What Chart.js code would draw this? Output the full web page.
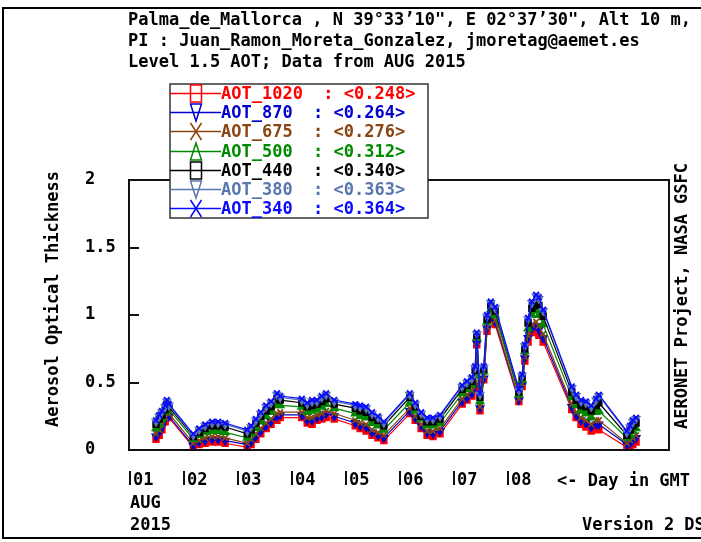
<!DOCTYPE html>
<html>
<head>
<meta charset="utf-8">
<script src="https://cdn.jsdelivr.net/npm/chart.js"></script>
<style>
  body { margin: 0; background: #fff; }
</style>
</head>
<body>
<canvas id="aot" width="701" height="542"></canvas>
<script>
// time in fractional day of August 2015 (GMT)
const dayTime = [1.50,1.56,1.61,1.67,1.70,1.74, 2.19,2.30,2.41,2.54,2.65,2.78,
  3.19,3.26,3.35,3.44,3.54,3.63,3.74,3.80, 4.20,4.30,4.39,4.48,4.57,4.65,4.80,
  5.19,5.28,5.39,5.50,5.61,5.72, 6.20,6.30,6.41,6.52,6.63,6.76,
  7.17,7.26,7.35,7.41,7.44,7.50,7.57,7.63,7.70,7.78,
  8.22,8.28,8.33,8.39,8.46,8.54,8.59,8.67, 9.20,9.28,9.37,9.46,9.56,9.65,9.70,
  10.22,10.28,10.33,10.39];

const aot1020 = [.08,.11,.15,.21,.25,.24, .02,.04,.05,.06,.06,.05, .02,.04,.08,.12,.16,.19,.22,.24,
  .24,.20,.19,.22,.23,.24,.23, .18,.16,.14,.11,.09,.07, .27,.22,.16,.11,.10,.12,
  .34,.37,.40,.46,.78,.29,.52,.88,.97,.93, .36,.47,.66,.80,.87,.88,.85,.80,
  .30,.24,.19,.17,.14,.16,.15, .02,.03,.04,.06];
const aot870 = [.10,.13,.17,.23,.27,.25, .03,.06,.07,.08,.08,.07, .04,.06,.10,.14,.18,.21,.25,.26,
  .26,.22,.22,.24,.25,.27,.25, .20,.18,.17,.13,.11,.09, .29,.24,.18,.13,.12,.14,
  .36,.39,.42,.48,.79,.31,.53,.90,.99,.95, .37,.48,.68,.83,.90,.92,.89,.83,
  .32,.26,.22,.20,.17,.19,.19, .04,.05,.07,.09];
const aot675 = [.12,.15,.19,.24,.28,.27, .05,.07,.09,.10,.10,.09, .05,.08,.12,.16,.20,.23,.27,.28,
  .28,.24,.24,.26,.27,.29,.27, .22,.20,.19,.15,.13,.11, .31,.25,.19,.14,.14,.16,
  .38,.41,.44,.50,.80,.32,.55,.91,1.00,.96, .38,.49,.69,.85,.93,.95,.92,.86,
  .34,.28,.24,.22,.19,.22,.22, .05,.07,.09,.11];
const aot500 = [.16,.19,.23,.28,.32,.30, .08,.11,.13,.14,.14,.13, .09,.12,.16,.21,.25,.28,.33,.33,
  .32,.28,.29,.30,.32,.34,.31, .27,.25,.24,.20,.18,.15, .35,.29,.23,.18,.18,.20,
  .42,.45,.48,.55,.83,.36,.58,.95,1.04,1.00, .41,.52,.73,.90,1.00,1.03,1.00,.93,
  .39,.33,.29,.27,.24,.28,.29, .09,.11,.14,.16];
const aot440 = [.19,.23,.26,.30,.34,.32, .10,.13,.16,.18,.18,.17, .12,.15,.20,.25,.29,.32,.38,.37,
  .35,.32,.33,.34,.36,.38,.34, .31,.29,.28,.24,.22,.18, .39,.32,.25,.21,.21,.23,
  .45,.48,.51,.59,.85,.39,.60,.97,1.07,1.03, .43,.54,.75,.94,1.05,1.09,1.07,.99,
  .43,.37,.33,.32,.29,.33,.35, .11,.15,.18,.20];
const aot380 = [.21,.25,.28,.32,.36,.33, .11,.15,.18,.20,.20,.19, .14,.17,.22,.27,.32,.35,.41,.39,
  .37,.34,.36,.36,.39,.41,.36, .33,.32,.31,.27,.24,.20, .41,.34,.27,.23,.23,.25,
  .47,.50,.53,.61,.86,.41,.61,.99,1.09,1.05, .44,.55,.77,.97,1.09,1.14,1.12,1.03,
  .46,.40,.36,.35,.32,.37,.40, .13,.17,.21,.23];
const aot340 = [.22,.26,.29,.33,.37,.34, .12,.16,.19,.21,.21,.20, .15,.18,.23,.28,.33,.36,.42,.40,
  .38,.35,.37,.37,.40,.42,.37, .34,.33,.32,.28,.25,.21, .42,.35,.28,.24,.24,.26,
  .48,.51,.54,.62,.87,.42,.62,1.00,1.10,1.06, .45,.56,.78,.98,1.10,1.15,1.13,1.04,
  .47,.41,.37,.36,.33,.38,.41, .14,.18,.22,.24];

const wavelengths = ['1020', '870', '675', '500', '440', '380', '340'];
const meanAOT = [0.248, 0.264, 0.276, 0.312, 0.340, 0.363, 0.364];
const dayLabels = ['01', '02', '03', '04', '05', '06', '07', '08'];
const titleLines = [
  'Palma_de_Mallorca , N 39°33’10", E 02°37’30", Alt 10 m,',
  'PI : Juan_Ramon_Moreta_Gonzalez, jmoretag@aemet.es',
  'Level 1.5 AOT; Data from AUG 2015'
];

const aotSeries = [aot1020, aot870, aot675, aot500, aot440, aot380, aot340];
const lineColors = ['#ff0000', '#0000cc', '#8b4513', '#008a00', '#000000', '#5a76ae', '#0a0aff'];
const markerStyle = ['rect', 'triangle', 'crossRot', 'triangle', 'rect', 'triangle', 'crossRot'];
const markerRotation = [0, 180, 0, 0, 0, 180, 0];

const FAMILY = '"DejaVu Sans Mono", monospace';
const FONT = 'bold 17px ' + FAMILY;

function seg(ctx, x1, y1, x2, y2) {
  ctx.beginPath(); ctx.moveTo(x1, y1); ctx.lineTo(x2, y2); ctx.stroke();
}

function legendMarker(ctx, kind, rot, cx, cy) {
  const w = 5.5, h = 8.5;
  ctx.beginPath();
  if (kind === 'rect') {
    ctx.rect(cx - w, cy - h, 2 * w, 2 * h);
  } else if (kind === 'triangle' && rot) {
    ctx.moveTo(cx - w, cy - h); ctx.lineTo(cx + w, cy - h); ctx.lineTo(cx, cy + h); ctx.closePath();
  } else if (kind === 'triangle') {
    ctx.moveTo(cx, cy - h); ctx.lineTo(cx + w, cy + h); ctx.lineTo(cx - w, cy + h); ctx.closePath();
  } else {
    ctx.moveTo(cx - w, cy - h); ctx.lineTo(cx + w, cy + h);
    ctx.moveTo(cx + w, cy - h); ctx.lineTo(cx - w, cy + h);
  }
  ctx.stroke();
}

const decor = {
  id: 'decor',
  afterDraw(chart) {
    const ctx = chart.ctx, a = chart.chartArea;
    const xs = chart.scales.x, ys = chart.scales.y;
    ctx.save();

    // page frame
    ctx.strokeStyle = '#000';
    ctx.lineWidth = 2;
    ctx.beginPath();
    ctx.moveTo(720, 8); ctx.lineTo(3, 8); ctx.lineTo(3, 538); ctx.lineTo(720, 538);
    ctx.stroke();

    // plot box
    ctx.strokeStyle = '#111';
    ctx.strokeRect(a.left, a.top, a.right - a.left, a.bottom - a.top);

    // inner y ticks
    ys.ticks.forEach(t => {
      if (t.value > ys.min && t.value < ys.max) {
        const y = Math.round(ys.getPixelForValue(t.value));
        seg(ctx, a.left, y, a.left + 10, y);
      }
    });

    // small bars before the day labels
    ctx.lineWidth = 2;
    dayLabels.forEach((d, i) => {
      const x = Math.round(xs.getPixelForValue(i + 1)) + 1;
      seg(ctx, x, 471, x, 485);
    });

    ctx.font = FONT;
    ctx.fillStyle = '#000';
    ctx.textAlign = 'left';
    ctx.textBaseline = 'alphabetic';
    titleLines.forEach((s, i) => ctx.fillText(s, 128, 25 + i * 21));

    ctx.fillText('<- Day in GMT', 557, 486);
    ctx.fillText('AUG', 130, 508);
    ctx.fillText('2015', 130, 530);
    ctx.fillText('Version 2 DS', 582, 530);

    ctx.save();
    ctx.translate(58, 299);
    ctx.rotate(-Math.PI / 2);
    ctx.textAlign = 'center';
    ctx.fillText('Aerosol Optical Thickness', 0, 0);
    ctx.restore();

    ctx.save();
    ctx.translate(687, 296);
    ctx.rotate(-Math.PI / 2);
    ctx.textAlign = 'center';
    ctx.fillText('AERONET Project, NASA GSFC', 0, 0);
    ctx.restore();

    // legend
    const lx = 170, ly = 84, lw = 258, lh = 134;
    ctx.fillStyle = '#fff';
    ctx.fillRect(lx, ly, lw, lh);
    ctx.strokeStyle = '#333';
    ctx.lineWidth = 1.5;
    ctx.strokeRect(lx, ly, lw, lh);
    ctx.textBaseline = 'middle';
    wavelengths.forEach((wl, i) => {
      const y = Math.round(ly + 9 + i * 19.2) + 0.5;
      ctx.strokeStyle = lineColors[i];
      ctx.fillStyle = lineColors[i];
      ctx.lineWidth = 1.5;
      seg(ctx, lx, y, lx + 51, y);
      legendMarker(ctx, markerStyle[i], markerRotation[i], lx + 26, y);
      ctx.fillText('AOT_' + wl + '  : <' + meanAOT[i].toFixed(3) + '>', lx + 51, y + 1);
    });

    ctx.restore();
  }
};

new Chart('aot', {
  type: 'line',
  data: {
    datasets: wavelengths.map((wl, i) => ({
      label: 'AOT_' + wl,
      data: dayTime.map((t, k) => ({ x: t, y: aotSeries[i][k] })),
      borderColor: lineColors[i],
      backgroundColor: lineColors[i],
      borderWidth: 1.2,
      pointStyle: markerStyle[i],
      pointRotation: markerRotation[i],
      pointRadius: 4,
      pointBorderWidth: 1.8,
      order: wavelengths.length - i
    }))
  },
  options: {
    responsive: false,
    animation: false,
    layout: { padding: { left: 85, right: 32, top: 180, bottom: 0 } },
    plugins: { legend: { display: false }, tooltip: { enabled: false } },
    scales: {
      x: {
        type: 'linear',
        min: 1,
        max: 11,
        grid: { display: false, drawTicks: false },
        border: { display: false },
        ticks: {
          stepSize: 1,
          autoSkip: false,
          maxRotation: 0,
          align: 'start',
          labelOffset: 4,
          padding: 20,
          color: '#000',
          font: { family: FAMILY, size: 17, weight: 'bold' },
          callback: v => dayLabels[v - 1] || ''
        },
        afterFit: s => { s.height = 92; }
      },
      y: {
        min: 0,
        max: 2,
        grid: { display: false, drawTicks: false },
        border: { display: false },
        ticks: {
          stepSize: 0.5,
          crossAlign: 'far',
          color: '#000',
          font: { family: FAMILY, size: 17, weight: 'bold' },
          callback: v => String(v)
        },
        afterFit: s => { s.width = 44; }
      }
    }
  },
  plugins: [decor]
});
</script>
</body>
</html>
